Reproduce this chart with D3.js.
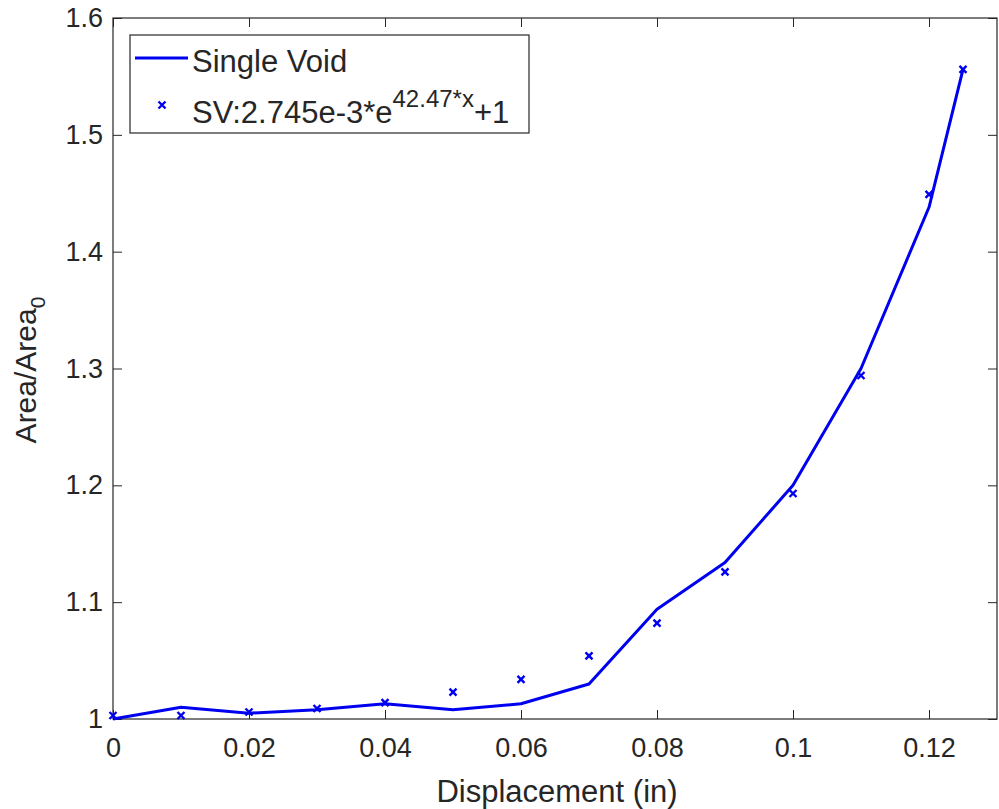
<!DOCTYPE html>
<html>
<head>
<meta charset="utf-8">
<script src="https://cdn.jsdelivr.net/npm/d3@7"></script>
<style>
  body { margin: 0; background: #fff; }
  text { font-family: "Liberation Sans", Arial, sans-serif; fill: #262626; }
</style>
</head>
<body>
<svg id="chart" width="999" height="809"></svg>
<script>
var svg = d3.select('#chart');

// data
var displacement = [0, 0.01, 0.02, 0.03, 0.04, 0.05, 0.06, 0.07, 0.08, 0.09, 0.1, 0.11, 0.12, 0.125];
var singleVoid   = [1.000, 1.010, 1.005, 1.008, 1.013, 1.008, 1.013, 1.030, 1.094, 1.134, 1.200, 1.300, 1.438, 1.556];
var fitValues    = [1.003, 1.003, 1.006, 1.009, 1.014, 1.023, 1.034, 1.054, 1.082, 1.126, 1.193, 1.294, 1.449, 1.556];
var xTicks = [0, 0.02, 0.04, 0.06, 0.08, 0.1, 0.12];
var yTicks = [1, 1.1, 1.2, 1.3, 1.4, 1.5, 1.6];

var mLeft = 113, mRight = 997, mTop = 18, mBottom = 719;

var x = d3.scaleLinear().domain([0, 0.13]).range([mLeft, mRight]);
var y = d3.scaleLinear().domain([1, 1.6]).range([mBottom, mTop]);

var axisColor = '#262626';
var blue = '#0000f0';

// box
svg.append('rect')
    .attr('x', mLeft)
    .attr('y', mTop)
    .attr('width', mRight - mLeft)
    .attr('height', mBottom - mTop)
    .style('fill', 'none')
    .style('stroke', axisColor)
    .style('stroke-width', 1.2);

function styleAxis(g) {
  g.select('.domain').remove();
  g.selectAll('line').style('stroke', axisColor);
  g.selectAll('text')
      .style('font-size', '27px')
      .style('font-family', '"Liberation Sans", Arial, sans-serif')
      .style('fill', axisColor);
}

var fmt = function(d) { return d3.format('~g')(d); };

svg.append('g')
    .attr('transform', 'translate(0,' + mBottom + ')')
    .call(d3.axisBottom(x).tickValues(xTicks).tickFormat(fmt).tickSize(-9).tickPadding(19))
    .call(styleAxis);

svg.append('g')
    .attr('transform', 'translate(0,' + mTop + ')')
    .call(d3.axisTop(x).tickValues(xTicks).tickFormat('').tickSize(-9))
    .call(styleAxis);

svg.append('g')
    .attr('transform', 'translate(' + mLeft + ',0)')
    .call(d3.axisLeft(y).tickValues(yTicks).tickFormat(fmt).tickSize(-9).tickPadding(10))
    .call(styleAxis);

svg.append('g')
    .attr('transform', 'translate(' + mRight + ',0)')
    .call(d3.axisRight(y).tickValues(yTicks).tickFormat('').tickSize(-9))
    .call(styleAxis);

// axis labels
svg.append('text')
    .attr('x', 557)
    .attr('y', 802)
    .attr('text-anchor', 'middle')
    .style('font-size', '31px')
    .text('Displacement (in)');

var yl = svg.append('text')
    .attr('transform', 'translate(36,370) rotate(-90)')
    .attr('text-anchor', 'middle')
    .style('font-size', '30px');
yl.append('tspan').text('Area/Area');
yl.append('tspan').attr('dy', 9).style('font-size', '21px').text('0');

// line
var line = d3.line()
    .x(function(d, i) { return x(displacement[i]); })
    .y(function(d) { return y(d); });

svg.append('path')
    .datum(singleVoid)
    .attr('d', line)
    .style('fill', 'none')
    .style('stroke', blue)
    .style('stroke-width', 3)
    .style('stroke-linejoin', 'round');

// x markers
function cross(g, cx, cy, s) {
  g.append('path')
      .attr('d', 'M' + (cx - s) + ',' + (cy - s) + 'L' + (cx + s) + ',' + (cy + s) +
                 'M' + (cx - s) + ',' + (cy + s) + 'L' + (cx + s) + ',' + (cy - s))
      .style('stroke', blue)
      .style('stroke-width', 2.4)
      .style('fill', 'none');
}

var markers = svg.append('g');
fitValues.forEach(function(v, i) {
  cross(markers, x(displacement[i]), y(v), 3.5);
});

// legend
var lg = svg.append('g');
lg.append('rect')
    .attr('x', 130)
    .attr('y', 35)
    .attr('width', 399)
    .attr('height', 98)
    .style('fill', '#fff')
    .style('stroke', axisColor)
    .style('stroke-width', 1.2);

lg.append('line')
    .attr('x1', 135).attr('x2', 188)
    .attr('y1', 58).attr('y2', 58)
    .style('stroke', blue)
    .style('stroke-width', 3);

lg.append('text')
    .attr('x', 192)
    .attr('y', 72)
    .style('font-size', '31px')
    .text('Single Void');

cross(lg, 162, 105, 3.5);

var t2 = lg.append('text')
    .attr('x', 192)
    .attr('y', 123)
    .style('font-size', '31px');
t2.append('tspan').text('SV:2.745e-3*e');
t2.append('tspan').attr('dy', -16).style('font-size', '24px').text('42.47*x');
t2.append('tspan').attr('dy', 16).text('+1');
</script>
</body>
</html>
